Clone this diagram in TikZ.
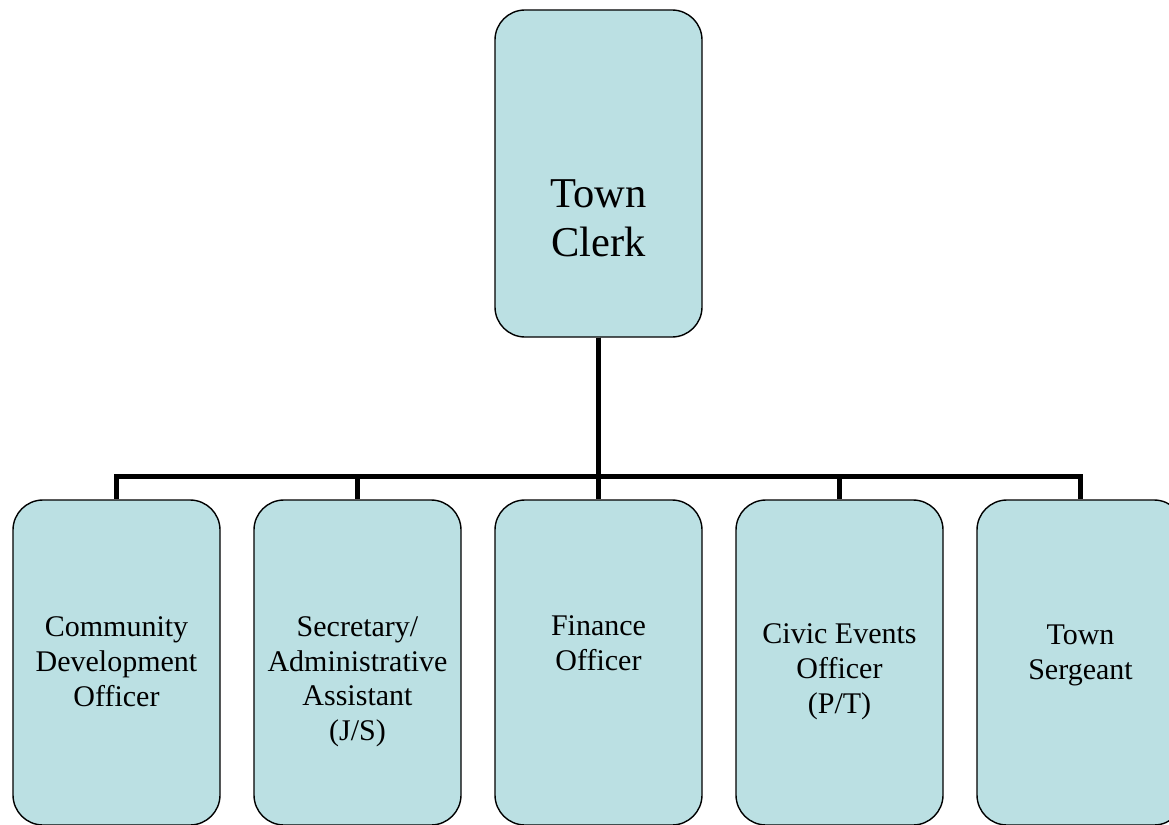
\documentclass[tikz,border=0pt]{standalone}
\usepackage{fontspec}
\setmainfont{Liberation Serif}
\usepackage{tikz}
\usetikzlibrary{positioning}
\definecolor{postfill}{RGB}{187,224,227}
\tikzset{
  post/.style={draw=black, line width=1.4pt, fill=postfill, rounded corners=30pt,
    minimum width=207pt, minimum height=325pt, inner sep=0pt},
  posttext/.style={align=center, inner sep=0pt, font=\fontsize{30}{34.7}\selectfont},
  bus/.style={line width=5.5pt}
}

\begin{document}
\begin{tikzpicture}[x=1pt, y=-1pt]
        \useasboundingbox (0,0) rectangle (1169,824);

        % Boxes
        \node[post, minimum height=327pt] (clerk) at (598.5,173.5) {};
        \node[post] (cdo) at (116.5,662.5) {};
        \node[post] (sec) at (357.5,662.5) {};
        \node[post] (fin) at (598.5,662.5) {};
        \node[post] (civ) at (839.5,662.5) {};
        \node[post] (sgt) at (1080.5,662.5) {};

        % Texts
        \node[posttext, font=\fontsize{42.5}{49}\selectfont, below=170pt of clerk.north] (clerk-text) {Town\\Clerk};
        \node[posttext, below=117.6pt of cdo.north] (cdo-text) {Community\\Development\\Officer};
        \node[posttext, below=117pt of sec.north] (sec-text) {Secretary/\\Administrative\\Assistant\\(J/S)};
        \node[posttext, below=116.6pt of fin.north] (fin-text) {Finance\\Officer};
        \node[posttext, below=124.6pt of civ.north] (civ-text) {Civic Events\\Officer\\(P/T)};
        \node[posttext, below=125.6pt of sgt.north] (sgt-text) {Town\\Sergeant};

        % Lines
        \foreach \n in {cdo,sec,fin,civ,sgt}
            \draw[bus] (clerk.south) -- ++(0,139) -| (\n.north);
\end{tikzpicture}
\end{document}
